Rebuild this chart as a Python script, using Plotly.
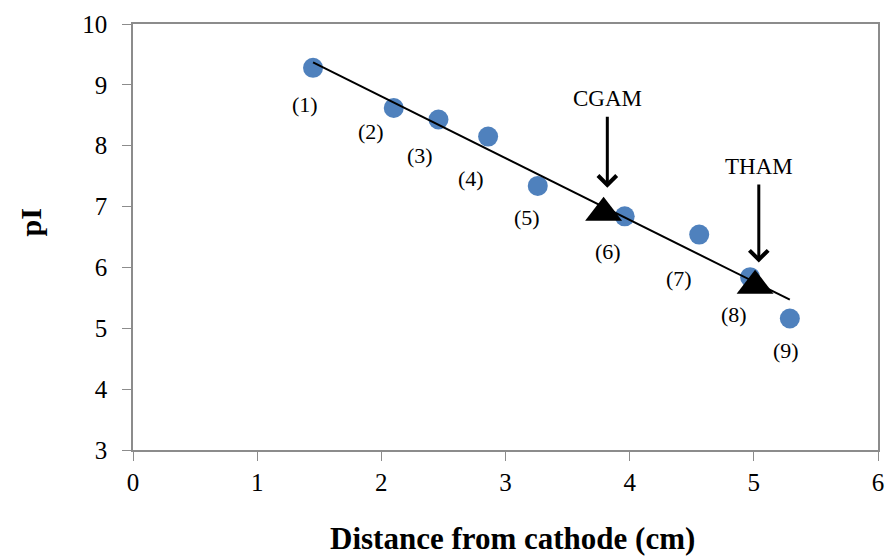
import numpy as np
import plotly.graph_objects as go

# Data
distance = [1.45, 2.10, 2.46, 2.86, 3.26, 3.96, 4.56, 4.97, 5.29]
pI = [9.28, 8.62, 8.43, 8.15, 7.34, 6.84, 6.54, 5.84, 5.16]
point_labels = ["(1)", "(2)", "(3)", "(4)", "(5)", "(6)", "(7)", "(8)", "(9)"]

marker_names = ["CGAM", "THAM"]
marker_x = [3.79, 5.01]
marker_y = [6.90, 5.70]

x_ticks = [0, 1, 2, 3, 4, 5, 6]
y_ticks = [3, 4, 5, 6, 7, 8, 9, 10]

# label offsets (pixels) relative to each point
label_dx = [-8, -23, -18, -17, -11, -17, -20, -16, -4]
label_dy = [37, 24, 36, 42, 32, 35, 44, 37, 32]

# linear trendline
slope, intercept = np.polyfit(distance, pI, 1)
line_x = [min(distance), max(distance)]
line_y = [slope * v + intercept for v in line_x]

FONT = "Liberation Serif"

fig = go.Figure()
fig.add_trace(go.Scatter(x=distance, y=pI, mode="markers",
                         marker=dict(color="#4F81BD", size=20), showlegend=False))
fig.add_trace(go.Scatter(x=line_x, y=line_y, mode="lines",
                         line=dict(color="black", width=2), showlegend=False))
fig.add_trace(go.Scatter(x=marker_x, y=marker_y, mode="markers",
                         marker=dict(color="black", size=32, symbol="triangle-up"),
                         showlegend=False))

for x, y, t, dx, dy in zip(distance, pI, point_labels, label_dx, label_dy):
    fig.add_annotation(x=x, y=y, text=t, showarrow=False, xshift=dx, yshift=-dy,
                       font=dict(family=FONT, size=22, color="black"))

# arrows with names
arrow_x = [3.82, 5.04]
arrow_tip_y = [7.31, 6.08]
arrow_ay = [-89, -96]
for name, x, y, ay in zip(marker_names, arrow_x, arrow_tip_y, arrow_ay):
    fig.add_annotation(x=x, y=y, text=name,
                       showarrow=True, ax=0, ay=ay, arrowhead=4, arrowsize=1.2,
                       arrowwidth=3, arrowcolor="black", borderpad=5,
                       font=dict(family=FONT, size=23, color="black"))

fig.add_annotation(xref="paper", yref="paper", x=-0.137, y=0.534, text="<b>pI</b>",
                   textangle=-90, showarrow=False, xanchor="center", yanchor="middle",
                   font=dict(family=FONT, size=30, color="black"))
fig.add_annotation(xref="paper", yref="paper", x=0.509, y=-0.207,
                   text="<b>Distance from cathode (cm)</b>", showarrow=False,
                   xanchor="center", yanchor="middle",
                   font=dict(family=FONT, size=31, color="black"))

axis_common = dict(showgrid=False, zeroline=False, showline=True, linecolor="#8c8c8c",
                   linewidth=1.5, mirror=True, ticks="outside", tickcolor="#8c8c8c",
                   ticklen=9, tickwidth=1, tickfont=dict(family=FONT, size=25, color="black"))

fig.update_xaxes(range=[0, 6], tickvals=x_ticks, **axis_common)
fig.update_yaxes(range=[3, 10], tickvals=y_ticks, ticklabelstandoff=10, **axis_common)

fig.update_layout(width=895, height=560, margin=dict(l=133, r=11, t=23, b=110),
                  plot_bgcolor="white", paper_bgcolor="white")

fig.write_html("out.html")
